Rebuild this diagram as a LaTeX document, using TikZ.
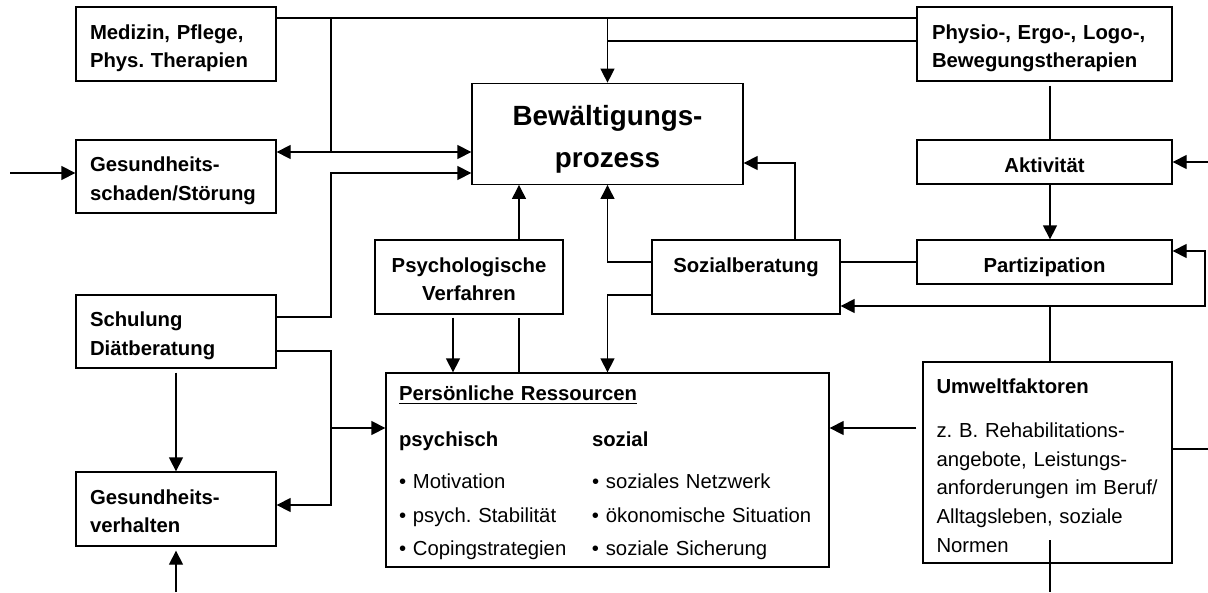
\documentclass[tikz,border=0pt]{standalone}
\usepackage{fontspec}
\setmainfont{Liberation Sans}
\usetikzlibrary{arrows.meta}
\frenchspacing
\newcommand{\ulin}[1]{\setbox0\hbox{#1}\rlap{\rule[-4pt]{\wd0}{1.8pt}}\box0}

\begin{document}
\begin{tikzpicture}[x=1pt, y=-1pt, line width=1.3pt, >={Triangle[length=14pt, width=14pt]},
  box/.style={draw, inner sep=0pt, font=\fontsize{20.3}{28.7}\selectfont\bfseries, text height=22pt},
  lbox/.style={box, minimum width=200pt, minimum height=74pt, text width=172pt, align=left, text depth=32pt},
  cbox/.style={box, minimum width=188pt, minimum height=74pt, text width=170pt, align=center, text depth=32pt},
  rbox/.style={box, minimum width=255pt, text width=225pt}]

\useasboundingbox (0,0) rectangle (1208,592);

% boxes
\node [lbox] (med) at (176,44) {Medizin, Pflege,\\Phys. Therapien};
\node [lbox, minimum height=73pt] (ges) at (176,176.5) {Gesundheits-\\schaden/Störung};
\node [lbox, minimum height=73pt] (sch) at (176,331.5) {Schulung\\Diätberatung};
\node [lbox] (gsv) at (176,509) {Gesundheits-\\verhalten};
\node [box, minimum width=271pt, minimum height=101pt, text width=251pt, align=center,
       font=\fontsize{27.8}{42.3}\selectfont\bfseries, text height=28pt, text depth=45.6pt]
       (bew) at (607.5,133.8) {Bewältigungs-\\prozess};
\node [rbox, align=left, minimum height=74pt, text depth=32pt] (phy) at (1044.5,44) {Physio-, Ergo-, Logo-,\\Bewegungstherapien};
\node [rbox, align=center, minimum height=44pt, text depth=2pt] (akt) at (1044.5,162) {Aktivität};
\node [rbox, align=center, minimum height=44pt, text depth=2pt] (par) at (1044.5,262) {Partizipation};
\node [cbox] (psy) at (469,277) {Psychologische\\Verfahren};
\node [cbox] (soz) at (746,277) {Sozialberatung};
\node [box, minimum width=443pt, minimum height=194pt, text width=417pt, align=left,
       font=\fontsize{20.3}{33.3}\selectfont, text height=25pt, text depth=164.4pt] (pers) at (607.5,470)
  {\begin{tabular}[t]{@{}p{193pt}@{}l@{}}
   \multicolumn{2}{@{}l@{}}{\textbf{\ulin{Persönliche Ressourcen}}}\\[12.4pt]
   \textbf{psychisch} & \textbf{sozial}\\[9.4pt]
   • Motivation & • soziales Netzwerk\\
   • psych. Stabilität & • ökonomische Situation\\
   • Copingstrategien & • soziale Sicherung
   \end{tabular}};
\node [box, minimum width=249pt, minimum height=201pt, text width=222pt, align=left,
       font=\fontsize{20.3}{28.8}\selectfont, text height=25pt, text depth=163.4pt] (umw) at (1047.5,462.5)
  {\textbf{Umweltfaktoren}\\[15.2pt]z. B. Rehabilitations-\\angebote, Leistungs-\\anforderungen im Beruf/\\Alltagsleben, soziale\\Normen};

% junctions and free ends
\coordinate (jtop) at (331,18);
\coordinate (jges) at (331,152);
\coordinate (jbew) at (607.5,18);
\coordinate (jphy) at (607.5,41);
\coordinate (inges) at (10,173);
\coordinate (jsch) at (331,317);
\coordinate (jsch2) at (331,351);
\coordinate (jgsv) at (331,505);
\coordinate (jpers) at (331,428);
\coordinate (ingsv) at (176,592);
\coordinate (rbus) at (1050,0);
\coordinate (inakt) at (1208,162);
\coordinate (jumw) at (1050,306);
\coordinate (jloop) at (1205,251);
\coordinate (jsoz) at (795,163);
\coordinate (jsozl) at (607.5,262);
\coordinate (jsozr) at (607.5,295);
\coordinate (jpsy) at (519,0);
\coordinate (jpsy2) at (453,0);
\coordinate (outumw) at (1208,449);
\coordinate (umwin) at (1050,540);
\coordinate (umwout) at (1050,592);

% connectors
\draw (med.east |- jtop) -- (phy.west |- jtop);
\draw (jtop) -- (jges);
\draw [<->] (ges.east |- jges) -- (bew.west |- jges);
\draw [->] (jbew) -- (bew.north);
\draw (jphy) -- (phy.west |- jphy);
\draw [->] (inges) -- (ges.west |- inges);
\draw [->] (sch.east |- jsch) -- (jsch) |- (bew.west |- inges);
\draw [->] (sch.east |- jsch2) -- (jsch2) |- (gsv.east |- jgsv);
\draw [->] (jpers) -- (pers.west |- jpers);
\draw [->, shorten <=4pt] (sch.south) -- (gsv.north);
\draw [->, shorten >=4pt] (ingsv) -- (gsv.south);

\draw [shorten <=4pt] (phy.south -| rbus) -- (akt.north -| rbus);
\draw [->] (inakt) -- (akt.east);
\draw [->] (akt.south -| rbus) -- (par.north -| rbus);
\draw (soz.east |- par.west) -- (par.west);
\draw [->] (umw.north -| rbus) -- (jumw) -- (soz.east |- jumw);
\draw [->] (jumw) -| (jloop) -- (par.east |- jloop);

\draw [->] (soz.north -| jsoz) -- (jsoz) -- (bew.east |- jsoz);
\draw [->] (soz.west |- jsozl) -- (jsozl) -- (bew.south);
\draw [->] (soz.west |- jsozr) -- (jsozr) -- (pers.north);
\draw [->] (psy.north -| jpsy) -- (bew.south -| jpsy);
\draw [->, shorten <=3pt] (psy.south -| jpsy2) -- (pers.north -| jpsy2);
\draw [shorten >=3pt] (pers.north -| jpsy) -- (psy.south -| jpsy);

\draw [->, shorten <=6pt] (umw.west |- jpers) -- (pers.east |- jpers);
\draw (umw.east |- outumw) -- (outumw);
\draw (umwin) -- (umwout);

\end{tikzpicture}
\end{document}
